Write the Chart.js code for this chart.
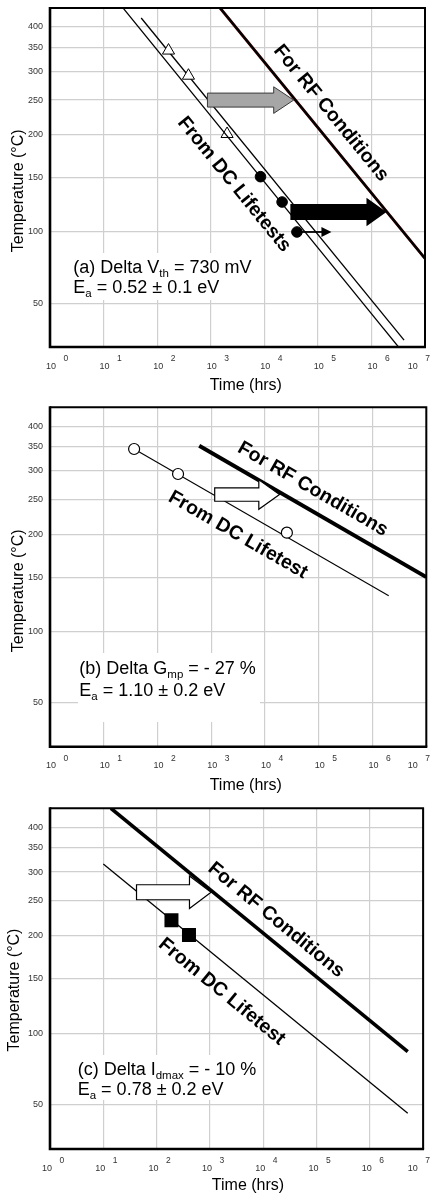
<!DOCTYPE html>
<html><head><meta charset="utf-8">
<script src="https://cdn.jsdelivr.net/npm/chart.js@4.4.1/dist/chart.umd.min.js"></script>
<style>
html,body{margin:0;padding:0;background:#fff;}
body{width:433px;height:1193px;position:relative;overflow:hidden;}
canvas{position:absolute;left:0;}
</style></head><body>
<canvas id="c1" width="433" height="400" style="top:0px"></canvas>
<canvas id="c2" width="433" height="400" style="top:400px"></canvas>
<canvas id="c3" width="433" height="403" style="top:790px"></canvas>
<script>
// ---------- data (time in hours, temperature in °C) ----------
const timeTicks = [1, 10, 100, 1e3, 1e4, 1e5, 1e6, 1e7];
const tempTicks = [50, 100, 150, 200, 250, 300, 350, 400];
const invTempRange = [1.375, 3.35];          // 1000/K, top and bottom of the y axis

// panel (a) Delta Vth
const aTriangleTime = [163, 384, 2020];
const aTriangleTemp = [343, 292, 201];
const aCircleTime = [8500, 21500, 40700];
const aCircleTemp = [151, 126, 100];
const aDc1Time = [23.6, 3.35e6];
const aDc1Temp = [452, 24.7];
const aDc2Time = [50.4, 4.07e6];
const aDc2Temp = [424.6, 29];
const aRfTime = [1496, 1e7];
const aRfTemp = [454, 79.7];
const aGrayArrowTime = [869, 35400];
const aGrayArrowTemp = 250;
const aBlackArrowTime = [30700, 1.91e6];
const aBlackArrowTemp = 117;
const aSmallArrowTime = [40700, 179500];
const aSmallArrowTemp = 100;
const aRfLabelAt = [175800, 230];
const aDcLabelAt = [2723, 143];

// panel (b) Delta Gmp
const bCircleTime = [36.7, 241, 25500];
const bCircleTemp = [345, 294, 202];
const bDcTime = [36.7, 2.0e6];
const bDcTemp = [345, 131.4];
const bRfTime = [597, 1e7];
const bRfTemp = [352.5, 150];
const bArrowTime = [1158, 18600];
const bArrowTemp = 258;
const bRfLabelAt = [77400, 267];
const bDcLabelAt = [3140, 199];

// panel (c) Delta Idmax
const cSquareTime = [190, 405];
const cSquareTemp = [221, 201];
const cDcTime = [10, 5.15e6];
const cDcTemp = [315.8, 45];
const cRfTime = [13.9, 5.15e6];
const cRfTemp = [454, 85.8];
const cArrowTime = [42, 1052];
const cArrowTemp = 264;
const cRfLabelAt = [17420, 221.3];
const cDcLabelAt = [1672, 137];

// ---------- helpers ----------
const FONT = '"Liberation Sans", Arial, Helvetica, sans-serif';
const inv = T => 1000 / (T + 273.15);
const pts = (ts, Ts) => ts.map((t, i) => ({x: t, y: inv(Ts[i])}));

function drawArrow(ctx, x0, x1, y, bh, hh, hl, fill, stroke, lw) {
  ctx.beginPath();
  ctx.moveTo(x0, y - bh);
  ctx.lineTo(x1 - hl, y - bh);
  ctx.lineTo(x1 - hl, y - hh);
  ctx.lineTo(x1, y);
  ctx.lineTo(x1 - hl, y + hh);
  ctx.lineTo(x1 - hl, y + bh);
  ctx.lineTo(x0, y + bh);
  ctx.closePath();
  ctx.fillStyle = fill; ctx.fill();
  if (stroke) { ctx.strokeStyle = stroke; ctx.lineWidth = lw; ctx.lineJoin = 'miter'; ctx.stroke(); }
}

function drawRich(ctx, x, y, parts, size, subSize) {
  let cx = x;
  ctx.textAlign = 'left'; ctx.textBaseline = 'alphabetic'; ctx.fillStyle = '#000';
  for (const p of parts) {
    if (p.sub) {
      ctx.font = subSize + 'px ' + FONT;
      ctx.fillText(p.t, cx, y + 4);
    } else {
      ctx.font = size + 'px ' + FONT;
      ctx.fillText(p.t, cx, y);
    }
    cx += ctx.measureText(p.t).width;
  }
}

const overlay = {
  id: 'overlay',
  beforeDatasetsDraw(chart, args, o) {
    const ctx = chart.ctx, b = o.box;
    ctx.save(); ctx.fillStyle = '#fff';
    ctx.fillRect(b[0], b[1], b[2] - b[0], b[3] - b[1]);
    ctx.restore();
  },
  afterDatasetsDraw(chart, args, o) {
    const ctx = chart.ctx, xs = chart.scales.x, ys = chart.scales.y, ca = chart.chartArea;
    ctx.save();
    ctx.beginPath(); ctx.rect(ca.left, ca.top, ca.right - ca.left, ca.bottom - ca.top); ctx.clip();
    for (const a of o.arrows) {
      const x0 = xs.getPixelForValue(a.time[0]), x1 = xs.getPixelForValue(a.time[1]);
      const y = ys.getPixelForValue(inv(a.temp));
      if (a.thin) {
        ctx.strokeStyle = '#000'; ctx.lineWidth = a.lw;
        ctx.beginPath(); ctx.moveTo(x0, y); ctx.lineTo(x1 - a.hl + 1, y); ctx.stroke();
        ctx.beginPath(); ctx.moveTo(x1, y); ctx.lineTo(x1 - a.hl, y - a.hh); ctx.lineTo(x1 - a.hl, y + a.hh); ctx.closePath();
        ctx.fillStyle = '#000'; ctx.fill();
      } else {
        drawArrow(ctx, x0, x1, y, a.bh, a.hh, a.hl, a.fill, a.stroke, a.lw);
      }
    }
    for (const l of o.labels) {
      const line = chart.data.datasets[l.line].data;
      const p0x = xs.getPixelForValue(line[0].x), p0y = ys.getPixelForValue(line[0].y);
      const p1x = xs.getPixelForValue(line[1].x), p1y = ys.getPixelForValue(line[1].y);
      const ang = Math.atan2(p1y - p0y, p1x - p0x);
      const cx = xs.getPixelForValue(l.at[0]), cy = ys.getPixelForValue(inv(l.at[1]));
      ctx.save();
      ctx.translate(cx, cy); ctx.rotate(ang);
      ctx.font = 'bold ' + o.labelSize + 'px ' + FONT;
      ctx.fillStyle = '#000'; ctx.textAlign = 'center'; ctx.textBaseline = 'middle';
      ctx.fillText(l.text, 0, 0);
      ctx.restore();
    }
    ctx.restore();
    ctx.save();
    drawRich(ctx, o.note.x, o.note.y1, o.note.line1, 18, 11.5);
    drawRich(ctx, o.note.x, o.note.y2, o.note.line2, 18, 11.5);
    ctx.restore();
  },
  afterDraw(chart, args, o) {
    const ctx = chart.ctx, ca = chart.chartArea, xs = chart.scales.x;
    ctx.save();
    ctx.strokeStyle = '#000';
    ctx.lineWidth = 2;
    ctx.beginPath(); ctx.moveTo(ca.left, ca.top); ctx.lineTo(ca.right, ca.top); ctx.lineTo(ca.right, ca.bottom); ctx.stroke();
    ctx.lineWidth = 2.6;
    ctx.beginPath(); ctx.moveTo(ca.left, ca.top - 1); ctx.lineTo(ca.left, ca.bottom); ctx.lineTo(ca.right + 1, ca.bottom); ctx.stroke();
    ctx.fillStyle = '#333'; ctx.textBaseline = 'middle'; ctx.textAlign = 'left';
    for (const v of timeTicks) {
      const n = Math.round(Math.log10(v));
      let px = xs.getPixelForValue(v) + o.xLabelShift;
      ctx.font = '8.5px ' + FONT;
      const ew = ctx.measureText(String(n)).width;
      if (px + 17.5 + ew > chart.width - 3) px = chart.width - 3 - ew - 17.5;
      ctx.font = '9px ' + FONT;
      ctx.fillText('10', px, ca.bottom + 19.3);
      ctx.font = '8.5px ' + FONT;
      ctx.fillText(String(n), px + 17.5, ca.bottom + 12);
    }
    ctx.fillStyle = '#000'; ctx.font = '16px ' + FONT; ctx.textAlign = 'center'; ctx.textBaseline = 'middle';
    ctx.fillText('Time (hrs)', o.xTitle[0], o.xTitle[1]);
    ctx.save();
    ctx.translate(o.yTitle[0], o.yTitle[1]); ctx.rotate(-Math.PI / 2);
    ctx.fillText('Temperature (°C)', 0, 0);
    ctx.restore();
    ctx.restore();
  }
};

function makeChart(id, datasets, geom, ov) {
  const el = document.getElementById(id);
  return new Chart(el, {
    type: 'scatter',
    data: {datasets},
    options: {
      responsive: false, animation: false, events: [],
      layout: {padding: {left: 0, top: geom.top, right: geom.right, bottom: 0}},
      plugins: {legend: {display: false}, tooltip: {enabled: false}, overlay: ov},
      elements: {line: {tension: 0}},
      scales: {
        x: {
          type: 'logarithmic', min: timeTicks[0], max: timeTicks[timeTicks.length - 1],
          afterBuildTicks: s => { s.ticks = timeTicks.map(v => ({value: v})); },
          ticks: {display: false},
          grid: {color: '#cfcfcf', lineWidth: 1.2, drawTicks: false},
          border: {display: false},
          afterFit: s => { s.height = geom.xh; s.paddingLeft = 0; s.paddingRight = 0; }
        },
        y: {
          type: 'linear', reverse: true, min: invTempRange[0], max: invTempRange[1],
          afterBuildTicks: s => { s.ticks = tempTicks.map(T => ({value: inv(T)})); },
          ticks: {
            autoSkip: false, padding: 7, color: '#333', font: {family: FONT, size: 9},
            callback: v => String(Math.round(1000 / v - 273.15))
          },
          grid: {color: '#cfcfcf', lineWidth: 1.2, drawTicks: false},
          border: {display: false},
          afterFit: s => { s.width = 50; s.paddingTop = 0; s.paddingBottom = 0; }
        }
      }
    },
    plugins: [overlay]
  });
}

const lineDs = (ts, Ts, color, w) => ({data: pts(ts, Ts), showLine: true, borderColor: color, borderWidth: w, pointRadius: 0, pointHoverRadius: 0});

// Panel (a)
makeChart('c1', [
  lineDs(aDc1Time, aDc1Temp, '#000', 1.3),
  {data: pts(aTriangleTime, aTriangleTemp), pointStyle: 'triangle', pointRadius: 7, pointBackgroundColor: '#fff', pointBorderColor: '#000', pointBorderWidth: 1},
  {data: pts(aCircleTime, aCircleTemp), pointStyle: 'circle', pointRadius: 5.3, pointBackgroundColor: '#000', pointBorderColor: '#000', pointBorderWidth: 1},
  lineDs(aDc2Time, aDc2Temp, '#000', 1.3),
  lineDs(aRfTime, aRfTemp, '#000', 2.5),
  lineDs(aRfTime, aRfTemp, '#a02020', 2.9)
], {top: 7.3, right: 5.7, xh: 53}, {
  box: [70, 253, 258, 300],
  arrows: [
    {time: aGrayArrowTime, temp: aGrayArrowTemp, bh: 7, hh: 13.3, hl: 20, fill: '#a6a6a6', stroke: '#3a3a3a', lw: 1},
    {time: aBlackArrowTime, temp: aBlackArrowTemp, bh: 8, hh: 14.2, hl: 20, fill: '#000', stroke: null, lw: 0},
    {time: aSmallArrowTime, temp: aSmallArrowTemp, thin: true, lw: 1.8, hh: 5, hl: 10}
  ],
  labels: [
    {text: 'For RF Conditions', line: 4, at: aRfLabelAt},
    {text: 'From DC Lifetests', line: 0, at: aDcLabelAt}
  ],
  labelSize: 19.5,
  note: {x: 73.3, y1: 273.3, y2: 293.3,
    line1: [{t: '(a) Delta V'}, {t: 'th', sub: true}, {t: ' = 730 mV'}],
    line2: [{t: 'E'}, {t: 'a', sub: true}, {t: ' = 0.52 ± 0.1 eV'}]},
  xLabelShift: -4, xTitle: [245.8, 385.5], yTitle: [18.5, 190.8]
});

// Panel (b)
makeChart('c2', [
  {data: pts(bCircleTime, bCircleTemp), pointStyle: 'circle', pointRadius: 5.5, pointBackgroundColor: '#fff', pointBorderColor: '#000', pointBorderWidth: 1.2},
  lineDs(bDcTime, bDcTemp, '#000', 1.1),
  lineDs(bRfTime, bRfTemp, '#000', 4)
], {top: 7.3, right: 5.7, xh: 53.3}, {
  box: [78, 253, 260, 322],
  arrows: [
    {time: bArrowTime, temp: bArrowTemp, bh: 6.7, hh: 14.7, hl: 20.7, fill: '#fff', stroke: '#000', lw: 1.2}
  ],
  labels: [
    {text: 'For RF Conditions', line: 2, at: bRfLabelAt},
    {text: 'From DC Lifetest', line: 1, at: bDcLabelAt}
  ],
  labelSize: 19.5,
  note: {x: 79.3, y1: 274.3, y2: 295.7,
    line1: [{t: '(b) Delta G'}, {t: 'mp', sub: true}, {t: ' = - 27 %'}],
    line2: [{t: 'E'}, {t: 'a', sub: true}, {t: ' = 1.10 ± 0.2 eV'}]},
  xLabelShift: -4, xTitle: [245.8, 385.5], yTitle: [18.5, 190.8]
});

// Panel (c)
makeChart('c3', [
  {data: pts(cSquareTime, cSquareTemp), pointStyle: 'rect', pointRadius: 9.9, pointBackgroundColor: '#000', pointBorderColor: '#000', pointBorderWidth: 0},
  lineDs(cDcTime, cDcTemp, '#000', 1.3),
  lineDs(cRfTime, cRfTemp, '#000', 3.6)
], {top: 18.3, right: 4.7, xh: 44}, {
  box: [75, 265, 262, 310],
  arrows: [
    {time: cArrowTime, temp: cArrowTemp, bh: 7.5, hh: 16.3, hl: 21.6, fill: '#fff', stroke: '#000', lw: 1.2}
  ],
  labels: [
    {text: 'For RF Conditions', line: 2, at: cRfLabelAt},
    {text: 'From DC Lifetest', line: 1, at: cDcLabelAt}
  ],
  labelSize: 19.5,
  note: {x: 77.7, y1: 285, y2: 305,
    line1: [{t: '(c) Delta I'}, {t: 'dmax', sub: true}, {t: ' = - 10 %'}],
    line2: [{t: 'E'}, {t: 'a', sub: true}, {t: ' = 0.78 ± 0.2 eV'}]},
  xLabelShift: -8, xTitle: [248, 395.5], yTitle: [15, 200]
});
</script>
</body></html>
